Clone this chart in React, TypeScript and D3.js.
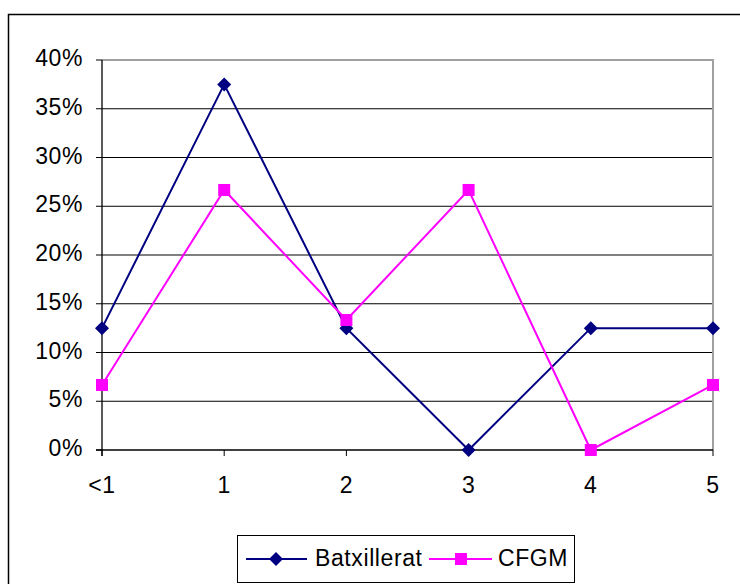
import React from "react";
import * as d3 from "d3";

const categories = ["<1", "1", "2", "3", "4", "5"];
const batxillerat = [0.125, 0.375, 0.125, 0, 0.125, 0.125];
const cfgm = [0.0667, 0.2667, 0.1333, 0.2667, 0, 0.0667];
const yTicks = [0, 0.05, 0.1, 0.15, 0.2, 0.25, 0.3, 0.35, 0.4];
const seriesNames = ["Batxillerat", "CFGM"];

export default function App() {
  const W = 740, H = 584;
  const left = 102, right = 713, top = 60, bottom = 450;
  const x = d3.scalePoint<string>().domain(categories).range([left, right]);
  const y = d3.scaleLinear().domain([0, 0.4]).range([bottom, top]);
  const line = d3.line<number>().x((_, i) => x(categories[i])!).y((d) => y(d));
  const font = "'Liberation Sans', Arial, sans-serif";
  const navy = "#000080";
  const pink = "#FF00FF";
  const fs = 23;
  const ls = 0.6;
  const diamond = (cx: number, cy: number, r: number) =>
    `M${cx},${cy - r}L${cx + r},${cy}L${cx},${cy + r}L${cx - r},${cy}Z`;
  return (
    <svg width={W} height={H} style={{ position: "absolute", left: 0, top: 0 }} fontFamily={font}>
      <rect x={0} y={0} width={W} height={H} fill="#fff" />
      <rect x={8.5} y={14.5} width={760} height={600} fill="none" stroke="#000" strokeWidth={1.5} />
      {yTicks.map((t) => (
        <g key={t}>
          {t > 0 && t < 0.4 && (
            <line x1={left} x2={right} y1={y(t)} y2={y(t)} stroke="#000" strokeWidth={1} />
          )}
          <line x1={left - 6} x2={left} y1={y(t)} y2={y(t)} stroke="#000" strokeWidth={1} />
          <text x={83} y={y(t) + 6} textAnchor="end" fontSize={fs} letterSpacing={ls} fill="#000">
            {d3.format(".0%")(t)}
          </text>
        </g>
      ))}
      <line x1={left} x2={right + 1} y1={top} y2={top} stroke="#A0A0A0" strokeWidth={2} />
      <line x1={right} x2={right} y1={top} y2={bottom} stroke="#A0A0A0" strokeWidth={2} />
      <line x1={left} x2={left} y1={top} y2={bottom + 6} stroke="#000" strokeWidth={1.3} />
      <line x1={left - 6} x2={right} y1={bottom} y2={bottom} stroke="#000" strokeWidth={1.3} />
      {categories.map((c) => (
        <g key={c}>
          <line x1={x(c)} x2={x(c)} y1={bottom} y2={bottom + 6} stroke="#000" strokeWidth={1} />
          <text x={x(c)} y={493} textAnchor="middle" fontSize={fs} letterSpacing={ls} fill="#000">
            {c}
          </text>
        </g>
      ))}
      <path d={line(batxillerat)!} fill="none" stroke={navy} strokeWidth={2} />
      <path d={line(cfgm)!} fill="none" stroke={pink} strokeWidth={2} />
      {batxillerat.map((v, i) => (
        <path key={"b" + i} d={diamond(x(categories[i])!, y(v), 7)} fill={navy} />
      ))}
      {cfgm.map((v, i) => (
        <rect key={"c" + i} x={x(categories[i])! - 6} y={y(v) - 6} width={12} height={12} fill={pink} />
      ))}
      <g>
        <rect x={237.5} y={535.5} width={337} height={47} fill="#fff" stroke="#000" strokeWidth={1} />
        <line x1={246} x2={307} y1={559} y2={559} stroke={navy} strokeWidth={2} />
        <path d={diamond(276, 559, 7)} fill={navy} />
        <text x={315} y={566} fontSize={fs} letterSpacing={ls} fill="#000">{seriesNames[0]}</text>
        <line x1={429} x2={492} y1={559} y2={559} stroke={pink} strokeWidth={2} />
        <rect x={455} y={553} width={12} height={12} fill={pink} />
        <text x={498} y={566} fontSize={fs} letterSpacing={ls} fill="#000">{seriesNames[1]}</text>
      </g>
    </svg>
  );
}
